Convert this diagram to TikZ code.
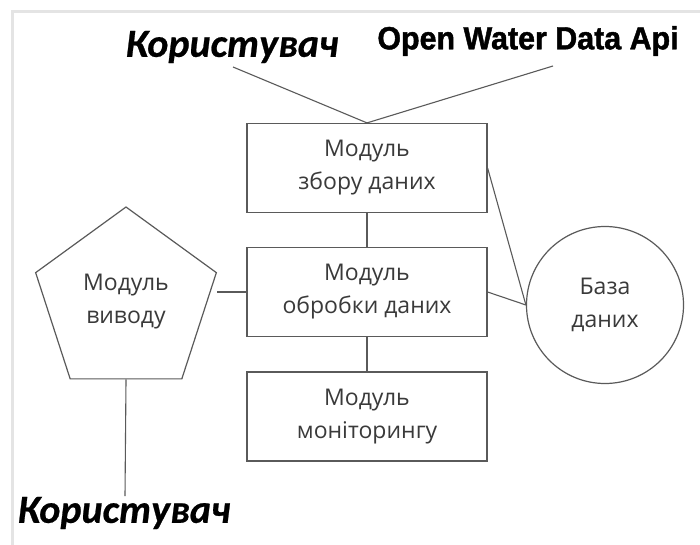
\documentclass[tikz,border=0pt]{standalone}
\usepackage{fontspec}
\setmainfont{Open Sans}
\newfontfamily\userfont{Carlito}[BoldItalicFeatures={FakeBold=0.6}]
\newfontfamily\apifont{Liberation Sans}[BoldFeatures={FakeBold=1.4, FakeStretch=0.95}]
\usetikzlibrary{shapes.geometric}
\definecolor{ln}{HTML}{5A5A5A}
\definecolor{tx}{HTML}{3A3A3A}
\definecolor{frame}{HTML}{E4E4E4}
\tikzset{
  modtext/.style={align=center, text=tx, font=\fontsize{23}{33}\selectfont},
  modbox/.style={modtext, draw=ln, line width=1.2pt, minimum width=240pt, minimum height=89pt, inner sep=0pt},
  conn/.style={draw=ln, line width=1.1pt},
  userlbl/.style={font=\userfont\bfseries\itshape\fontsize{40}{44}\selectfont, inner sep=0pt},
  apilbl/.style={font=\apifont\bfseries\fontsize{32}{34}\selectfont, inner sep=0pt}
}
\begin{document}
\begin{tikzpicture}[x=1pt,y=-1pt]
\useasboundingbox (0,0) rectangle (700,545);
\fill[white] (0,0) rectangle (700,545);
\draw[frame, line width=3pt] (12,545) -- (12,12) -- (700,12);

\node[modbox] (collect) at (367,168) {Модуль\\збору даних};
\node[modbox] (process) at (367,292) {Модуль\\обробки даних};
\node[modbox] (monitor) at (367,416.5) {Модуль\\моніторингу};
\node[modtext, draw=ln, line width=1.2pt, regular polygon, regular polygon sides=5, minimum size=190pt, inner sep=0pt] (output) at (126,302) {Модуль\\виводу};
\node[modtext, draw=ln, line width=1.2pt, circle, minimum size=157pt, inner sep=0pt] (db) at (605,305) {База\\даних};

\node[userlbl] (user1) at (232,47) {Користувач};
\node[apilbl] (api) at (528,41) {Open Water Data Api};
\node[userlbl] (user2) at (124,513) {Користувач};

\coordinate (u1) at (233,67);
\coordinate (a1) at (553,66);
\coordinate (u2) at (125,496);

\draw[conn] (u1) -- (collect.north);
\draw[conn] (a1) -- (collect.north);
\draw[conn] (collect.south) -- (process.north);
\draw[conn] (process.south) -- (monitor.north);
\draw[conn] (process.west) -- (output.corner 5 |- process.west);
\draw[conn] (output.south) -- (u2);
\draw[conn] (collect.east) -- (db.west);
\draw[conn] (process.east) -- (db.west);
\end{tikzpicture}
\end{document}
